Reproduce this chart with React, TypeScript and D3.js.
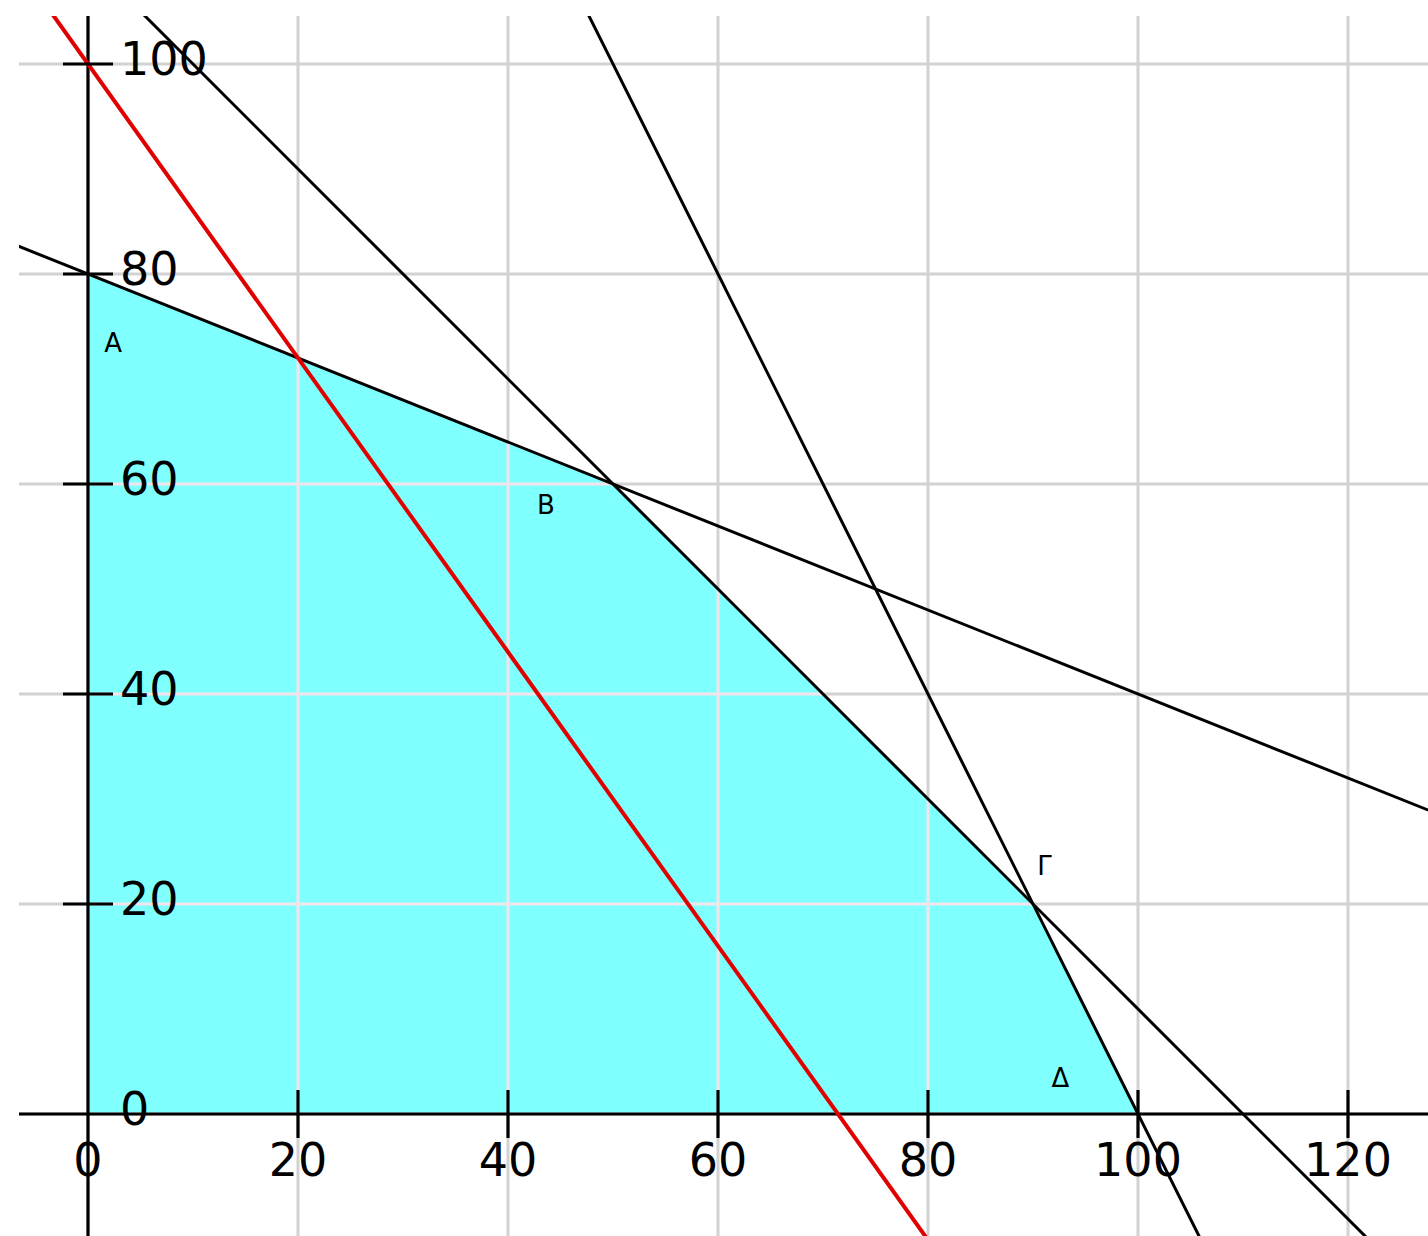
import { useMemo } from 'react';
import * as d3 from 'd3';

// Feasible region corners (x, y)
const regionX = [0, 0, 50, 90, 100];
const regionY = [0, 80, 60, 20, 0];

// Constraint lines a*x + b*y = c
const lineA = [2, 1, 2];
const lineB = [5, 1, 1];
const lineC = [400, 110, 200];

// Objective line (red) 7x + 5y = 500
const objective = { a: 7, b: 5, c: 500 };

// Vertex labels and where they sit (data units)
const vertexNames = ['Α', 'Β', 'Γ', 'Δ'];
const vertexLabelX = [2.4, 43.6, 91.1, 92.6];
const vertexLabelY = [73.4, 58, 23.6, 3.4];

const xTicks = [0, 20, 40, 60, 80, 100, 120];
const yTicks = [0, 20, 40, 60, 80, 100];

const W = 1428;
const H = 1236;
const LEFT = 19;
const TOP = 16;

export default function App() {
  const x = useMemo(() => d3.scaleLinear().domain([0, 100]).range([88, 1138]), []);
  const y = useMemo(() => d3.scaleLinear().domain([0, 100]).range([1114, 64]), []);

  const xMin = x.invert(LEFT - 5);
  const xMax = x.invert(W + 5);
  const yMin = y.invert(H + 5);
  const yMax = y.invert(TOP - 5);

  const linePath = (a: number, b: number, c: number) => {
    // walk the line from one edge of the box to the other
    const pts: [number, number][] = [];
    if (b !== 0) {
      pts.push([xMin, (c - a * xMin) / b]);
      pts.push([xMax, (c - a * xMax) / b]);
    } else {
      pts.push([c / a, yMin]);
      pts.push([c / a, yMax]);
    }
    return d3.line()(pts.map(([px, py]) => [x(px), y(py)] as [number, number])) ?? '';
  };

  const region = regionX.map((v, i) => [x(v), y(regionY[i])] as [number, number]);
  const regionPath = d3.line().curve(d3.curveLinearClosed)(region) ?? '';

  const gridX = d3.range(0, 121, 20);
  const gridY = d3.range(0, 101, 20);

  const grid = (stroke: string) => (
    <g stroke={stroke} strokeWidth={3}>
      {gridX.map((v) => (
        <line key={'gx' + v} x1={x(v)} x2={x(v)} y1={TOP} y2={H} />
      ))}
      {gridY.map((v) => (
        <line key={'gy' + v} x1={LEFT} x2={W} y1={y(v)} y2={y(v)} />
      ))}
    </g>
  );

  const font = 'DejaVu Sans, sans-serif';

  return (
    <svg
      width={W}
      height={H}
      style={{ position: 'absolute', left: 0, top: 0, background: '#fff' }}
    >
      <defs>
        <clipPath id="plot">
          <rect x={LEFT} y={TOP} width={W - LEFT} height={H - TOP} />
        </clipPath>
        <clipPath id="region">
          <path d={regionPath} />
        </clipPath>
      </defs>

      <g clipPath="url(#plot)">
        {grid('#d2d2d2')}
        <path d={regionPath} fill="#80ffff" />
        <g clipPath="url(#region)">{grid('#f2e4ea')}</g>

        {/* axes */}
        <line x1={x(0)} x2={x(0)} y1={TOP} y2={H} stroke="#000" strokeWidth={3.2} />
        <line x1={LEFT} x2={W} y1={y(0)} y2={y(0)} stroke="#000" strokeWidth={3.2} />

        {/* constraints */}
        {lineA.map((a, i) => (
          <path key={i} d={linePath(a, lineB[i], lineC[i])} stroke="#000" strokeWidth={3} fill="none" />
        ))}
        <path
          d={linePath(objective.a, objective.b, objective.c)}
          stroke="#e00000"
          strokeWidth={4}
          fill="none"
        />

        {/* ticks */}
        {yTicks.filter((v) => v > 0).map((v) => (
          <line key={'ty' + v} x1={x(0) - 25} x2={x(0) + 25} y1={y(v)} y2={y(v)} stroke="#000" strokeWidth={3.2} />
        ))}
        {xTicks.filter((v) => v > 0).map((v) => (
          <line key={'tx' + v} x1={x(v)} x2={x(v)} y1={y(0) - 24} y2={y(0) + 24} stroke="#000" strokeWidth={3.2} />
        ))}

        {/* tick labels */}
        {yTicks.map((v) => (
          <text
            key={'ly' + v}
            x={x(0) + 32}
            y={y(v) - 5}
            fontFamily={font}
            fontSize={46}
            dominantBaseline="central"
            fill="#000"
          >
            {v}
          </text>
        ))}
        {xTicks.map((v) => (
          <text
            key={'lx' + v}
            x={x(v)}
            y={y(0) + 46}
            fontFamily={font}
            fontSize={46}
            textAnchor="middle"
            dominantBaseline="central"
            fill="#000"
          >
            {v}
          </text>
        ))}

        {/* vertex labels */}
        {vertexNames.map((n, i) => (
          <text
            key={n}
            x={x(vertexLabelX[i])}
            y={y(vertexLabelY[i])}
            fontFamily={font}
            fontSize={26}
            textAnchor="middle"
            dominantBaseline="central"
            fill="#000"
          >
            {n}
          </text>
        ))}
      </g>
    </svg>
  );
}
